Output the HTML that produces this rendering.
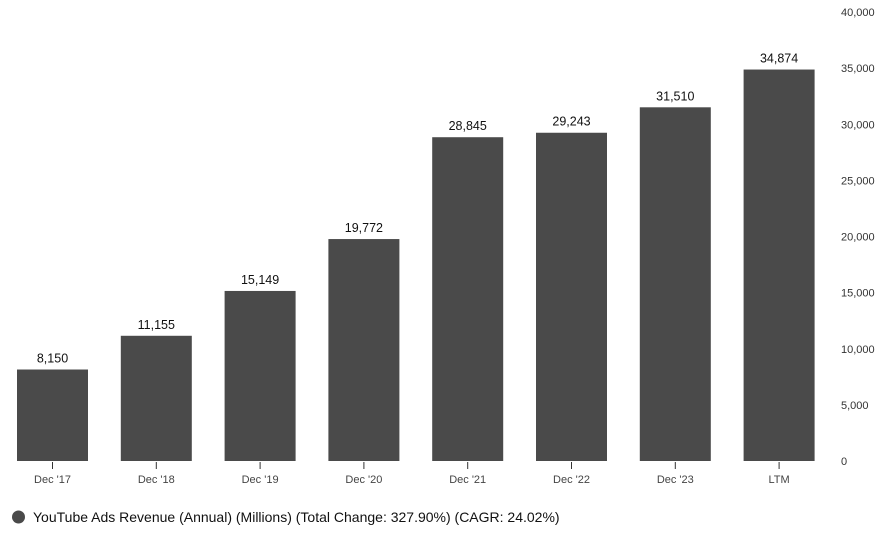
<!DOCTYPE html>
<html><head><meta charset="utf-8"><style>
body{margin:0;background:#fff;font-family:"Liberation Sans",sans-serif;}
svg{display:block}
</style></head><body>
<svg id="chart" width="889" height="534">
<g id="yaxis"></g>
<g id="bars"></g>
<g id="xaxis"></g>
<g>
<circle cx="18.5" cy="517" r="6.5" fill="#4a4a4a"/>
<text x="33" y="522" font-size="14" fill="#111">YouTube Ads Revenue (Annual) (Millions) (Total Change: 327.90%) (CAGR: 24.02%)</text>
</g>
</svg>
<script>
const categories=["Dec '17","Dec '18","Dec '19","Dec '20","Dec '21","Dec '22","Dec '23","LTM"];
const values=[8150,11155,15149,19772,28845,29243,31510,34874];
const yTicks=[0,5000,10000,15000,20000,25000,30000,35000,40000];
const NS="http://www.w3.org/2000/svg";
const y0=461,yTop=12,yMax=40000;
const y=v=>y0-(v/yMax)*(y0-yTop);
const x=i=>52.5+i*103.8;
const bw=71;
const fmt=v=>v.toLocaleString('en-US');
function mk(t,a,p){const e=document.createElementNS(NS,t);for(const k in a)e.setAttribute(k,a[k]);p.appendChild(e);return e;}
const ya=document.getElementById('yaxis');
yTicks.forEach(t=>{
 const e=mk('text',{x:841,y:y(t)+4,'font-size':11,fill:'#333'},ya);
 
 
 e.textContent=fmt(t);
});
const bg=document.getElementById('bars'),xa=document.getElementById('xaxis');
values.forEach((v,i)=>{
 const r=mk('rect',{x:x(i)-bw/2,y:y(v),width:bw,height:y0-y(v),fill:'#4a4a4a'},bg);
 
 
 const l=mk('text',{x:x(i),y:y(v)-7,'font-size':12.5,fill:'#111','text-anchor':'middle'},bg);
 
 
 l.textContent=fmt(v);
 const tk=mk('line',{x1:x(i),x2:x(i),y1:462,y2:469,stroke:'#333','stroke-width':1},xa);
 
 
 const c=mk('text',{x:x(i),y:483,'font-size':11,fill:'#444','text-anchor':'middle'},xa);
 
 
 c.textContent=categories[i];
});
</script>
</body></html>
